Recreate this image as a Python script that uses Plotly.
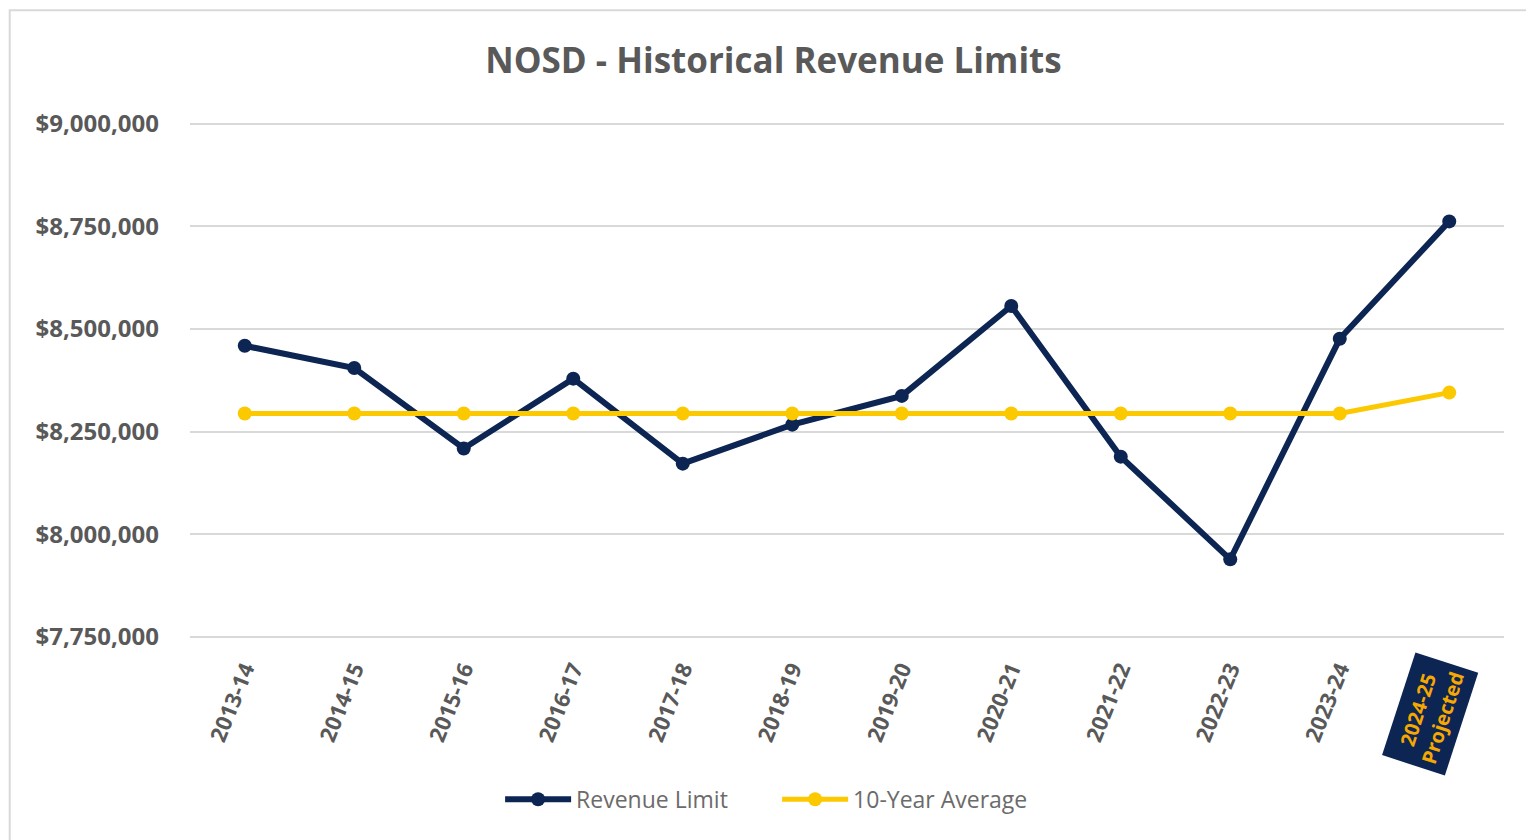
import plotly.graph_objects as go

years = ["2013-14", "2014-15", "2015-16", "2016-17", "2017-18", "2018-19",
         "2019-20", "2020-21", "2021-22", "2022-23", "2023-24", "2024-25 Projected"]
tick_labels = ["2013-14", "2014-15", "2015-16", "2016-17", "2017-18", "2018-19",
               "2019-20", "2020-21", "2021-22", "2022-23", "2023-24", ""]
revenue_limit = [8459000, 8405000, 8209000, 8379000, 8172000, 8267000,
                 8337000, 8556000, 8189000, 7939000, 8476000, 8762000]
ten_year_avg = [8294000, 8294000, 8294000, 8294000, 8294000, 8294000,
                8294000, 8294000, 8294000, 8294000, 8294000, 8345000]
y_ticks = [7750000, 8000000, 8250000, 8500000, 8750000, 9000000]
y_tick_labels = ["$7,750,000", "$8,000,000", "$8,250,000", "$8,500,000", "$8,750,000", "$9,000,000"]

NAVY = "#0c2553"
YELLOW = "#fcc800"
GRAY = "#595959"
x_idx = list(range(len(years)))

fig = go.Figure()
fig.add_trace(go.Scatter(
    x=x_idx, y=revenue_limit, name="Revenue Limit", mode="lines+markers",
    line=dict(color=NAVY, width=6), marker=dict(color=NAVY, size=14),
    text=years, hovertemplate="%{text}: %{y:$,.0f}<extra></extra>"))
fig.add_trace(go.Scatter(
    x=x_idx, y=ten_year_avg, name="10-Year Average", mode="lines+markers",
    line=dict(color=YELLOW, width=5), marker=dict(color=YELLOW, size=14),
    text=years, hovertemplate="%{text}: %{y:$,.0f}<extra></extra>"))

fig.update_layout(
    width=1534, height=840,
    paper_bgcolor="white", plot_bgcolor="white",
    margin=dict(l=182, r=38, t=114, b=209),
    title=dict(text="<b>NOSD - Historical Revenue Limits</b>", x=0.499, xanchor="center",
               y=0.937, yanchor="middle",
               font=dict(family="Open Sans", size=35, color=GRAY)),
    font=dict(family="Open Sans", color=GRAY),
    showlegend=True,
    legend=dict(orientation="h", x=0.236, xanchor="left", y=-0.31, yanchor="middle",
                font=dict(size=23, color="#6b6b6b"), itemwidth=66,
                entrywidth=196, entrywidthmode="pixels",
                traceorder="normal"),
    xaxis=dict(range=[-0.5, 11.5], tickmode="array", tickvals=x_idx, ticktext=tick_labels,
               tickangle=-68, showgrid=False, zeroline=False, showline=False, ticks="",
               ticklabelstandoff=12,
               tickfont=dict(family="Open Sans", size=22, color=GRAY, weight="bold")),
    yaxis=dict(range=[7745000, 9004000], tickmode="array", tickvals=y_ticks,
               ticktext=y_tick_labels, showgrid=True, gridcolor="#d9d9d9", gridwidth=2,
               zeroline=False, showline=False, ticks="", ticklabelstandoff=30,
               tickfont=dict(family="Open Sans", size=24, color=GRAY, weight="bold")),
)

fig.add_annotation(
    x=10.83, y=-0.145, xref="x", yref="paper", text="<b>2024-25<br>Projected</b>",
    showarrow=False, textangle=-72, bgcolor=NAVY, borderpad=6,
    font=dict(family="Open Sans", size=20, color="#f7a800"),
    xanchor="center", yanchor="middle", align="center")

fig.add_shape(type="rect", xref="paper", yref="paper",
              x0=-0.1372, x1=1.025, y0=-0.40, y1=1.216,
              line=dict(color="#d9d9d9", width=2), fillcolor="rgba(0,0,0,0)", layer="below")

fig.write_html("out.html")
